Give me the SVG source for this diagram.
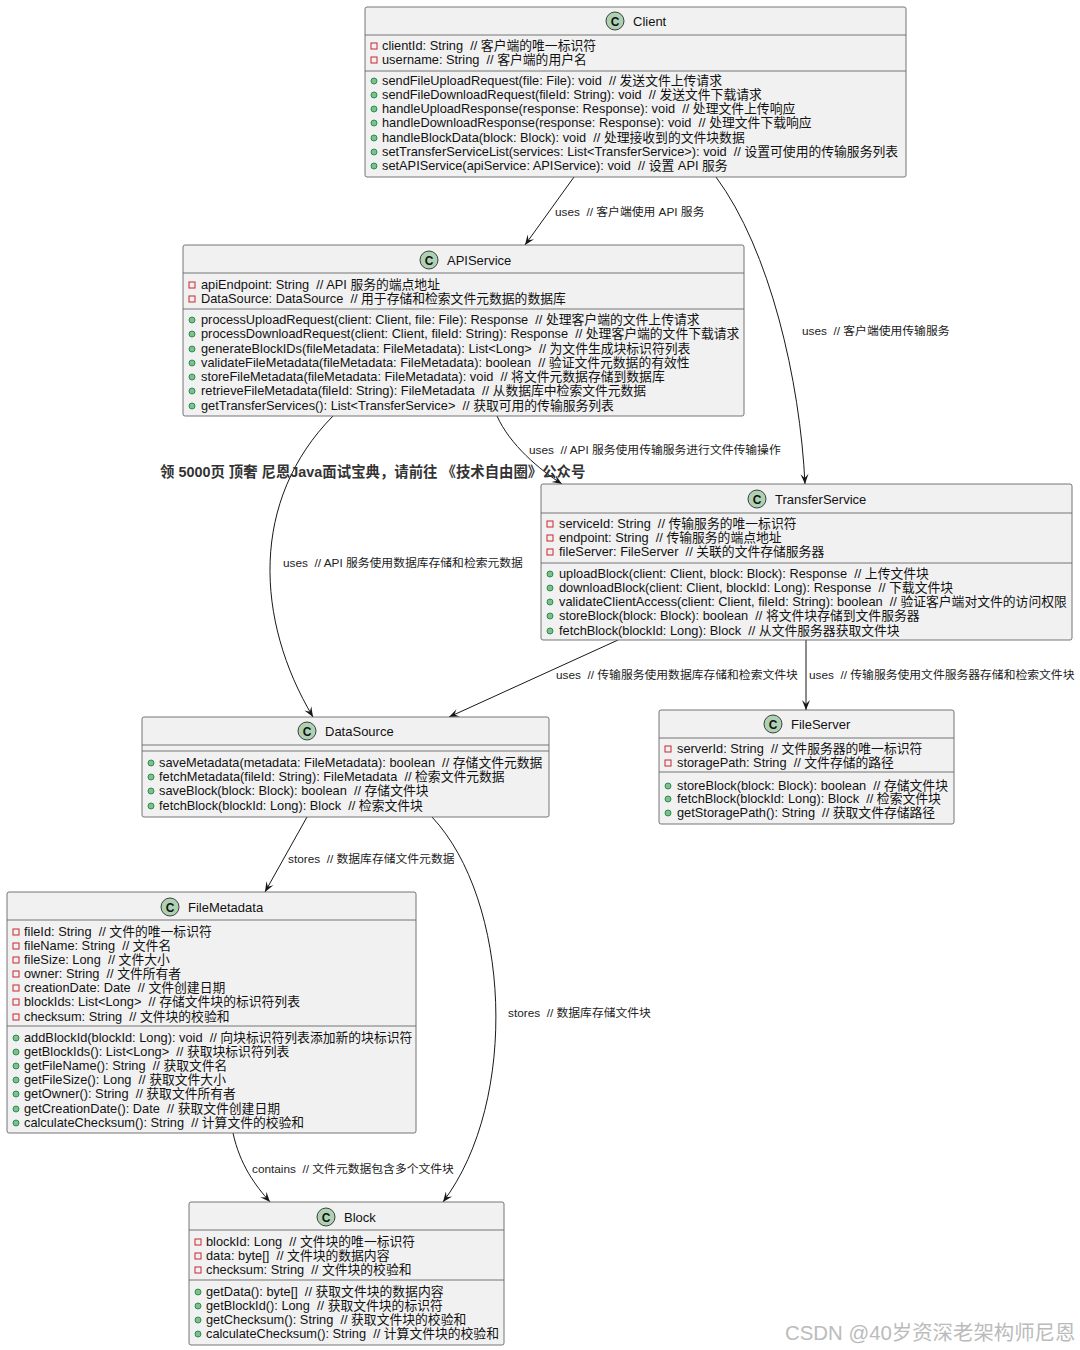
<svg xmlns="http://www.w3.org/2000/svg" width="1080" height="1350" viewBox="0 0 1080 1350">
<style>
text{font-family:"Liberation Sans","Noto Sans CJK SC",sans-serif;fill:#111;white-space:pre}
.box{fill:#F1F1F1;stroke:#666;stroke-width:0.9}
.div{stroke:#666;stroke-width:0.9}
.t{font-size:12.8px}
.h{font-size:13px}
.ci{fill:#ADD1B2;stroke:#181818;stroke-width:0.8}
.cl{font-size:12px;font-weight:bold;text-anchor:middle}
.fa{fill:none;stroke:#C82930;stroke-width:1}
.me{fill:#84BE84;stroke:#038048;stroke-width:0.8}
.lbl{font-size:11.8px;fill:#222}
.con{fill:none;stroke:#181818;stroke-width:1}
.wm{font-size:14.4px;font-weight:bold;fill:#333}
.wm2{font-size:20.4px;fill:#bbb}
</style>
<defs>
<marker id="arr" viewBox="-11 -5 12 10" refX="0" refY="0" markerWidth="12" markerHeight="10" markerUnits="userSpaceOnUse" orient="auto">
<path d="M0,0 L-10,-4 L-6,0 L-10,4 Z" fill="#181818"/>
</marker>
</defs>

<g id="connectors">
<path class="con" marker-end="url(#arr)" d="M574,177 L525,245"/>
<path class="con" marker-end="url(#arr)" d="M716,177 C770,250 800,380 805,484"/>
<path class="con" marker-end="url(#arr)" d="M497,416 C510,445 540,470 562,484"/>
<path class="con" marker-end="url(#arr)" d="M333,416 C250,500 255,620 313,717"/>
<path class="con" marker-end="url(#arr)" d="M618,640 L449,717"/>
<path class="con" marker-end="url(#arr)" d="M806,640 L806,710"/>
<path class="con" marker-end="url(#arr)" d="M307,817 L265,892"/>
<path class="con" marker-end="url(#arr)" d="M432,817 C510,900 520,1100 443,1202"/>
<path class="con" marker-end="url(#arr)" d="M233,1133 C240,1165 255,1185 270,1202"/>
<text class="lbl" x="555" y="216">uses  // 客户端使用 API 服务</text>
<text class="lbl" x="802" y="335">uses  // 客户端使用传输服务</text>
<text class="lbl" x="529" y="454">uses  // API 服务使用传输服务进行文件传输操作</text>
<text class="lbl" x="283" y="567">uses  // API 服务使用数据库存储和检索元数据</text>
<text class="lbl" x="556" y="679">uses  // 传输服务使用数据库存储和检索文件块</text>
<text class="lbl" x="809" y="679">uses  // 传输服务使用文件服务器存储和检索文件块</text>
<text class="lbl" x="288" y="863">stores  // 数据库存储文件元数据</text>
<text class="lbl" x="508" y="1017">stores  // 数据库存储文件块</text>
<text class="lbl" x="252" y="1173">contains  // 文件元数据包含多个文件块</text>
</g>

<g id="Client">
<rect class="box" x="365" y="7" width="541" height="170" rx="2"/>
<line class="div" x1="365" y1="35" x2="906" y2="35"/>
<line class="div" x1="365" y1="71" x2="906" y2="71"/>
<circle class="ci" cx="615" cy="21" r="9"/>
<text class="cl" x="615" y="25.5">C</text>
<text class="h" x="633" y="25.5">Client</text>
<rect class="fa" x="371" y="43" width="6" height="6"/>
<text class="t" x="382" y="50">clientId: String  // 客户端的唯一标识符</text>
<rect class="fa" x="371" y="57" width="6" height="6"/>
<text class="t" x="382" y="64">username: String  // 客户端的用户名</text>
<circle class="me" cx="374" cy="81" r="3"/>
<text class="t" x="382" y="85">sendFileUploadRequest(file: File): void  // 发送文件上传请求</text>
<circle class="me" cx="374" cy="95" r="3"/>
<text class="t" x="382" y="99">sendFileDownloadRequest(fileId: String): void  // 发送文件下载请求</text>
<circle class="me" cx="374" cy="109" r="3"/>
<text class="t" x="382" y="113">handleUploadResponse(response: Response): void  // 处理文件上传响应</text>
<circle class="me" cx="374" cy="123" r="3"/>
<text class="t" x="382" y="127">handleDownloadResponse(response: Response): void  // 处理文件下载响应</text>
<circle class="me" cx="374" cy="138" r="3"/>
<text class="t" x="382" y="142">handleBlockData(block: Block): void  // 处理接收到的文件块数据</text>
<circle class="me" cx="374" cy="152" r="3"/>
<text class="t" x="382" y="156">setTransferServiceList(services: List&lt;TransferService&gt;): void  // 设置可使用的传输服务列表</text>
<circle class="me" cx="374" cy="166" r="3"/>
<text class="t" x="382" y="170">setAPIService(apiService: APIService): void  // 设置 API 服务</text>
</g>

<g id="APIService">
<rect class="box" x="183" y="245" width="561" height="171" rx="2"/>
<line class="div" x1="183" y1="273" x2="744" y2="273"/>
<line class="div" x1="183" y1="309" x2="744" y2="309"/>
<circle class="ci" cx="429" cy="260" r="9"/>
<text class="cl" x="429" y="264.5">C</text>
<text class="h" x="447" y="264.5">APIService</text>
<rect class="fa" x="189" y="282" width="6" height="6"/>
<text class="t" x="201" y="289">apiEndpoint: String  // API 服务的端点地址</text>
<rect class="fa" x="189" y="296" width="6" height="6"/>
<text class="t" x="201" y="303">DataSource: DataSource  // 用于存储和检索文件元数据的数据库</text>
<circle class="me" cx="192" cy="320" r="3"/>
<text class="t" x="201" y="324">processUploadRequest(client: Client, file: File): Response  // 处理客户端的文件上传请求</text>
<circle class="me" cx="192" cy="334" r="3"/>
<text class="t" x="201" y="338">processDownloadRequest(client: Client, fileId: String): Response  // 处理客户端的文件下载请求</text>
<circle class="me" cx="192" cy="349" r="3"/>
<text class="t" x="201" y="353">generateBlockIDs(fileMetadata: FileMetadata): List&lt;Long&gt;  // 为文件生成块标识符列表</text>
<circle class="me" cx="192" cy="363" r="3"/>
<text class="t" x="201" y="367">validateFileMetadata(fileMetadata: FileMetadata): boolean  // 验证文件元数据的有效性</text>
<circle class="me" cx="192" cy="377" r="3"/>
<text class="t" x="201" y="381">storeFileMetadata(fileMetadata: FileMetadata): void  // 将文件元数据存储到数据库</text>
<circle class="me" cx="192" cy="391" r="3"/>
<text class="t" x="201" y="395">retrieveFileMetadata(fileId: String): FileMetadata  // 从数据库中检索文件元数据</text>
<circle class="me" cx="192" cy="406" r="3"/>
<text class="t" x="201" y="410">getTransferServices(): List&lt;TransferService&gt;  // 获取可用的传输服务列表</text>
</g>

<g id="TransferService">
<rect class="box" x="541" y="484" width="531" height="156" rx="2"/>
<line class="div" x1="541" y1="513" x2="1072" y2="513"/>
<line class="div" x1="541" y1="563" x2="1072" y2="563"/>
<circle class="ci" cx="757" cy="499" r="9"/>
<text class="cl" x="757" y="503.5">C</text>
<text class="h" x="775" y="503.5">TransferService</text>
<rect class="fa" x="547" y="521" width="6" height="6"/>
<text class="t" x="559" y="528">serviceId: String  // 传输服务的唯一标识符</text>
<rect class="fa" x="547" y="535" width="6" height="6"/>
<text class="t" x="559" y="542">endpoint: String  // 传输服务的端点地址</text>
<rect class="fa" x="547" y="549" width="6" height="6"/>
<text class="t" x="559" y="556">fileServer: FileServer  // 关联的文件存储服务器</text>
<circle class="me" cx="550" cy="574" r="3"/>
<text class="t" x="559" y="578">uploadBlock(client: Client, block: Block): Response  // 上传文件块</text>
<circle class="me" cx="550" cy="588" r="3"/>
<text class="t" x="559" y="592">downloadBlock(client: Client, blockId: Long): Response  // 下载文件块</text>
<circle class="me" cx="550" cy="602" r="3"/>
<text class="t" x="559" y="606">validateClientAccess(client: Client, fileId: String): boolean  // 验证客户端对文件的访问权限</text>
<circle class="me" cx="550" cy="616" r="3"/>
<text class="t" x="559" y="620">storeBlock(block: Block): boolean  // 将文件块存储到文件服务器</text>
<circle class="me" cx="550" cy="631" r="3"/>
<text class="t" x="559" y="635">fetchBlock(blockId: Long): Block  // 从文件服务器获取文件块</text>
</g>

<g id="DataSource">
<rect class="box" x="142" y="717" width="407" height="100" rx="2"/>
<line class="div" x1="142" y1="745" x2="549" y2="745"/>
<line class="div" x1="142" y1="751" x2="549" y2="751"/>
<circle class="ci" cx="307" cy="731" r="9"/>
<text class="cl" x="307" y="735.5">C</text>
<text class="h" x="325" y="735.5">DataSource</text>
<circle class="me" cx="151" cy="763" r="3"/>
<text class="t" x="159" y="767">saveMetadata(metadata: FileMetadata): boolean  // 存储文件元数据</text>
<circle class="me" cx="151" cy="777" r="3"/>
<text class="t" x="159" y="781">fetchMetadata(fileId: String): FileMetadata  // 检索文件元数据</text>
<circle class="me" cx="151" cy="791" r="3"/>
<text class="t" x="159" y="795">saveBlock(block: Block): boolean  // 存储文件块</text>
<circle class="me" cx="151" cy="806" r="3"/>
<text class="t" x="159" y="810">fetchBlock(blockId: Long): Block  // 检索文件块</text>
</g>

<g id="FileServer">
<rect class="box" x="659" y="710" width="295" height="114" rx="2"/>
<line class="div" x1="659" y1="738" x2="954" y2="738"/>
<line class="div" x1="659" y1="772" x2="954" y2="772"/>
<circle class="ci" cx="773" cy="724" r="9"/>
<text class="cl" x="773" y="728.5">C</text>
<text class="h" x="791" y="728.5">FileServer</text>
<rect class="fa" x="665" y="746" width="6" height="6"/>
<text class="t" x="677" y="753">serverId: String  // 文件服务器的唯一标识符</text>
<rect class="fa" x="665" y="760" width="6" height="6"/>
<text class="t" x="677" y="767">storagePath: String  // 文件存储的路径</text>
<circle class="me" cx="668" cy="786" r="3"/>
<text class="t" x="677" y="790">storeBlock(block: Block): boolean  // 存储文件块</text>
<circle class="me" cx="668" cy="799" r="3"/>
<text class="t" x="677" y="803">fetchBlock(blockId: Long): Block  // 检索文件块</text>
<circle class="me" cx="668" cy="813" r="3"/>
<text class="t" x="677" y="817">getStoragePath(): String  // 获取文件存储路径</text>
</g>

<g id="FileMetadata">
<rect class="box" x="7" y="892" width="409" height="241" rx="2"/>
<line class="div" x1="7" y1="920" x2="416" y2="920"/>
<line class="div" x1="7" y1="1026" x2="416" y2="1026"/>
<circle class="ci" cx="170" cy="907" r="9"/>
<text class="cl" x="170" y="911.5">C</text>
<text class="h" x="188" y="911.5">FileMetadata</text>
<rect class="fa" x="13" y="929" width="6" height="6"/>
<text class="t" x="24" y="936">fileId: String  // 文件的唯一标识符</text>
<rect class="fa" x="13" y="943" width="6" height="6"/>
<text class="t" x="24" y="950">fileName: String  // 文件名</text>
<rect class="fa" x="13" y="957" width="6" height="6"/>
<text class="t" x="24" y="964">fileSize: Long  // 文件大小</text>
<rect class="fa" x="13" y="971" width="6" height="6"/>
<text class="t" x="24" y="978">owner: String  // 文件所有者</text>
<rect class="fa" x="13" y="985" width="6" height="6"/>
<text class="t" x="24" y="992">creationDate: Date  // 文件创建日期</text>
<rect class="fa" x="13" y="999" width="6" height="6"/>
<text class="t" x="24" y="1006">blockIds: List&lt;Long&gt;  // 存储文件块的标识符列表</text>
<rect class="fa" x="13" y="1014" width="6" height="6"/>
<text class="t" x="24" y="1021">checksum: String  // 文件块的校验和</text>
<circle class="me" cx="16" cy="1038" r="3"/>
<text class="t" x="24" y="1042">addBlockId(blockId: Long): void  // 向块标识符列表添加新的块标识符</text>
<circle class="me" cx="16" cy="1052" r="3"/>
<text class="t" x="24" y="1056">getBlockIds(): List&lt;Long&gt;  // 获取块标识符列表</text>
<circle class="me" cx="16" cy="1066" r="3"/>
<text class="t" x="24" y="1070">getFileName(): String  // 获取文件名</text>
<circle class="me" cx="16" cy="1080" r="3"/>
<text class="t" x="24" y="1084">getFileSize(): Long  // 获取文件大小</text>
<circle class="me" cx="16" cy="1094" r="3"/>
<text class="t" x="24" y="1098">getOwner(): String  // 获取文件所有者</text>
<circle class="me" cx="16" cy="1109" r="3"/>
<text class="t" x="24" y="1113">getCreationDate(): Date  // 获取文件创建日期</text>
<circle class="me" cx="16" cy="1123" r="3"/>
<text class="t" x="24" y="1127">calculateChecksum(): String  // 计算文件的校验和</text>
</g>

<g id="Block">
<rect class="box" x="189" y="1202" width="315" height="143" rx="2"/>
<line class="div" x1="189" y1="1230" x2="504" y2="1230"/>
<line class="div" x1="189" y1="1280" x2="504" y2="1280"/>
<circle class="ci" cx="326" cy="1217" r="9"/>
<text class="cl" x="326" y="1221.5">C</text>
<text class="h" x="344" y="1221.5">Block</text>
<rect class="fa" x="195" y="1239" width="6" height="6"/>
<text class="t" x="206" y="1246">blockId: Long  // 文件块的唯一标识符</text>
<rect class="fa" x="195" y="1253" width="6" height="6"/>
<text class="t" x="206" y="1260">data: byte[]  // 文件块的数据内容</text>
<rect class="fa" x="195" y="1267" width="6" height="6"/>
<text class="t" x="206" y="1274">checksum: String  // 文件块的校验和</text>
<circle class="me" cx="198" cy="1292" r="3"/>
<text class="t" x="206" y="1296">getData(): byte[]  // 获取文件块的数据内容</text>
<circle class="me" cx="198" cy="1306" r="3"/>
<text class="t" x="206" y="1310">getBlockId(): Long  // 获取文件块的标识符</text>
<circle class="me" cx="198" cy="1320" r="3"/>
<text class="t" x="206" y="1324">getChecksum(): String  // 获取文件块的校验和</text>
<circle class="me" cx="198" cy="1334" r="3"/>
<text class="t" x="206" y="1338">calculateChecksum(): String  // 计算文件块的校验和</text>
</g>

<g id="watermarks">
<text class="wm" x="160" y="477">领 5000页 顶奢 尼恩Java面试宝典，请前往 《技术自由圈》公众号</text>
<text class="wm2" x="785" y="1340">CSDN @40岁资深老架构师尼恩</text>
</g>
</svg>
